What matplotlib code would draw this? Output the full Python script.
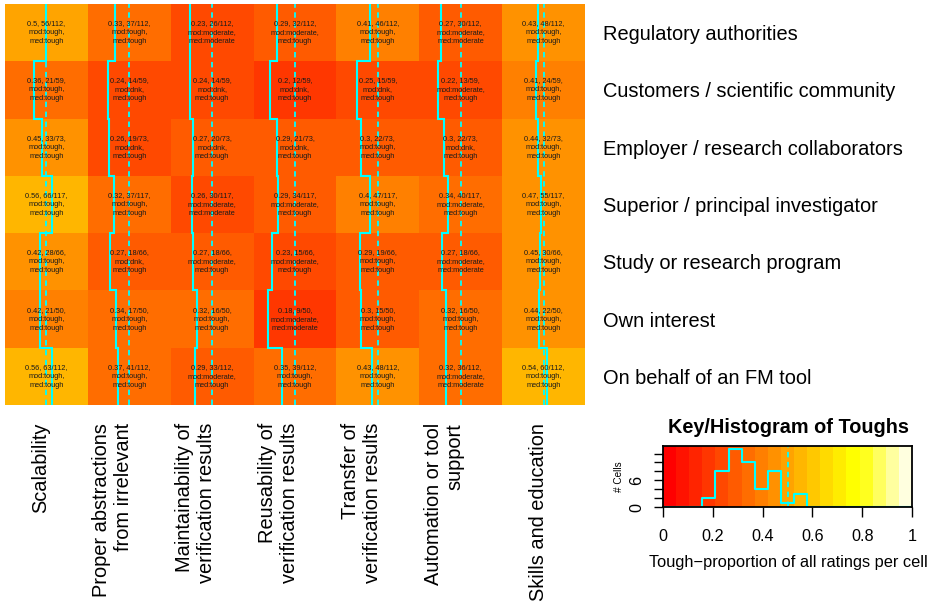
import numpy as np
import matplotlib
matplotlib.use("Agg")
import matplotlib.pyplot as plt
from matplotlib.colors import ListedColormap, BoundaryNorm, hsv_to_rgb

plt.rcParams['font.family'] = ['Liberation Sans', 'DejaVu Sans']

# --- data (rows top -> bottom, columns left -> right) ---
rotulos_linhas = ["Regulatory authorities", "Customers / scientific community",
                  "Employer / research collaborators", "Superior / principal investigator",
                  "Study or research program", "Own interest", "On behalf of an FM tool"]
rotulos_colunas = ["Scalability", "Proper abstractions\nfrom irrelevant",
                   "Maintainability of\nverification results", "Reusability of\nverification results",
                   "Transfer of\nverification results", "Automation or tool\nsupport",
                   "Skills and education"]

# number of "tough" ratings per cell
toughs = [[56, 37, 26, 32, 46, 30, 48],
          [21, 14, 14, 12, 15, 13, 24],
          [33, 19, 20, 21, 22, 22, 32],
          [66, 37, 30, 34, 47, 40, 55],
          [28, 18, 18, 15, 19, 18, 30],
          [21, 17, 16, 9, 15, 16, 22],
          [63, 41, 33, 39, 48, 36, 60]]
# total ratings per row
totais = [112, 59, 73, 117, 66, 50, 112]

modas = [["tough", "tough", "moderate", "moderate", "tough", "moderate", "tough"],
         ["tough", "dnk", "dnk", "dnk", "dnk", "moderate", "tough"],
         ["tough", "dnk", "dnk", "dnk", "tough", "dnk", "tough"],
         ["tough", "tough", "moderate", "moderate", "tough", "moderate", "tough"],
         ["tough", "dnk", "moderate", "moderate", "tough", "moderate", "tough"],
         ["tough", "tough", "tough", "moderate", "tough", "tough", "tough"],
         ["tough", "tough", "moderate", "tough", "tough", "moderate", "tough"]]
medianas = [["tough", "tough", "moderate", "tough", "tough", "moderate", "tough"],
            ["tough", "tough", "tough", "tough", "tough", "tough", "tough"],
            ["tough", "tough", "tough", "tough", "tough", "tough", "tough"],
            ["tough", "tough", "moderate", "tough", "tough", "tough", "tough"],
            ["tough", "tough", "tough", "tough", "tough", "moderate", "tough"],
            ["tough", "tough", "tough", "moderate", "tough", "tough", "tough"],
            ["tough", "tough", "tough", "tough", "tough", "moderate", "tough"]]

valores = np.array(toughs, dtype=float) / np.array(totais, dtype=float)[:, None]
n_lin, n_col = valores.shape


def heat_colors(n):
    """Same as R's heat.colors(n)."""
    j = n // 4
    i = n - j
    cores = [hsv_to_rgb((h, 1.0, 1.0)) for h in np.linspace(0, 1 / 6, i)]
    if j > 0:
        cores += [hsv_to_rgb((1 / 6, s, 1.0)) for s in np.linspace(1 - 1 / (2 * j), 1 / (2 * j), j)]
    return cores


N_CORES = 19
quebras = np.linspace(0, 1, N_CORES + 1)
cmap = ListedColormap(heat_colors(N_CORES))
norm = BoundaryNorm(quebras, cmap.N)
CIANO = "#00FFFF"
TRACO = (0, (3, 2.5))

W, H = 934, 605
fig = plt.figure(figsize=(W / 100, H / 100), dpi=100)

# --- heatmap ---
ax = fig.add_axes([5 / W, (H - 405) / H, 580 / W, 401 / H])
ax.pcolormesh(np.arange(n_col + 1), np.arange(n_lin + 1), valores, cmap=cmap, norm=norm)
ax.set_xlim(0, n_col)
ax.set_ylim(n_lin, 0)
for s in ax.spines.values():
    s.set_visible(False)

# cell notes
for i in range(n_lin):
    for j in range(n_col):
        v = f"{valores[i, j]:.2f}".rstrip('0').rstrip('.')
        txt = f"{v}, {toughs[i][j]}/{totais[i]},\nmod:{modas[i][j]},\nmed:{medianas[i][j]}"
        ax.text(j + 0.5, i + 0.5, txt, ha='center', va='center', fontsize=5.3,
                color='#1a1a1a', linespacing=1.4)

# column traces
for j in range(n_col):
    ax.axvline(j + 0.5, color=CIANO, lw=1.3, ls=TRACO)
    xs = np.repeat(j + valores[:, j], 2)
    ys = np.repeat(np.arange(n_lin + 1), 2)[1:-1]
    ax.plot(xs, ys, color=CIANO, lw=1.5, solid_joinstyle='miter')

# row labels on the right
ax.set_yticks(np.arange(n_lin) + 0.5)
ax.set_yticklabels(rotulos_linhas, fontsize=14.4)
ax.yaxis.tick_right()
ax.tick_params(axis='y', length=0, pad=13)
ax.set_xticks([])

# column labels below
for j, lab in enumerate(rotulos_colunas):
    ax.annotate(lab, xy=(j + 0.5, 0), xycoords=('data', 'axes fraction'),
                xytext=(3, -13), textcoords='offset points', rotation=90,
                rotation_mode='anchor', ha='right', va='bottom',
                multialignment='right', fontsize=14.4)

# --- key / histogram ---
axk = fig.add_axes([663 / W, (H - 507) / H, 249 / W, 61 / H])
axk.imshow(np.linspace(0, 1, N_CORES + 1)[:-1][None, :] + 0.5 / N_CORES, cmap=cmap, norm=norm,
           extent=(0, 1, 0, 1), aspect='auto', interpolation='nearest')
contagens, _ = np.histogram(valores.ravel(), bins=quebras)
hy = np.append(contagens, contagens[-1])
axk.step(quebras, hy / hy.max() * 0.95, where='post', color=CIANO, lw=1.5)
axk.axvline(0.5, color=CIANO, lw=1.3, ls=TRACO)
axk.set_xlim(0, 1)
axk.set_ylim(0, 1)

xt = [0, 0.2, 0.4, 0.6, 0.8, 1]
axk.set_xticks(xt)
axk.set_xticklabels(["0", "0.2", "0.4", "0.6", "0.8", "1"], fontsize=11.7)
axk.tick_params(axis='x', length=7, width=1, pad=9)

yt = np.arange(0, hy.max() + 1, 2)
yt = yt[yt / hy.max() * 0.95 <= 1]
axk.set_yticks(yt / hy.max() * 0.95)
axk.set_yticklabels([str(int(t)) if t in (0, 6) else "" for t in yt], fontsize=11.7,
                    rotation=90, va='center')
axk.tick_params(axis='y', length=6.5, width=1, pad=7)
for s in axk.spines.values():
    s.set_linewidth(1.3)

fig.text(619 / W, (H - 477) / H, "# Cells", rotation=90, ha='center', va='center', fontsize=7.2)
fig.text(788 / W, (H - 433) / H, "Key/Histogram of Toughs", ha='center', va='baseline',
         fontsize=14.3, fontweight='bold')
fig.text(788 / W, (H - 563) / H, "Tough\u2212proportion of all ratings per cell",
         ha='center', va='center', fontsize=11.8)

fig.savefig("out.png", dpi=100)
